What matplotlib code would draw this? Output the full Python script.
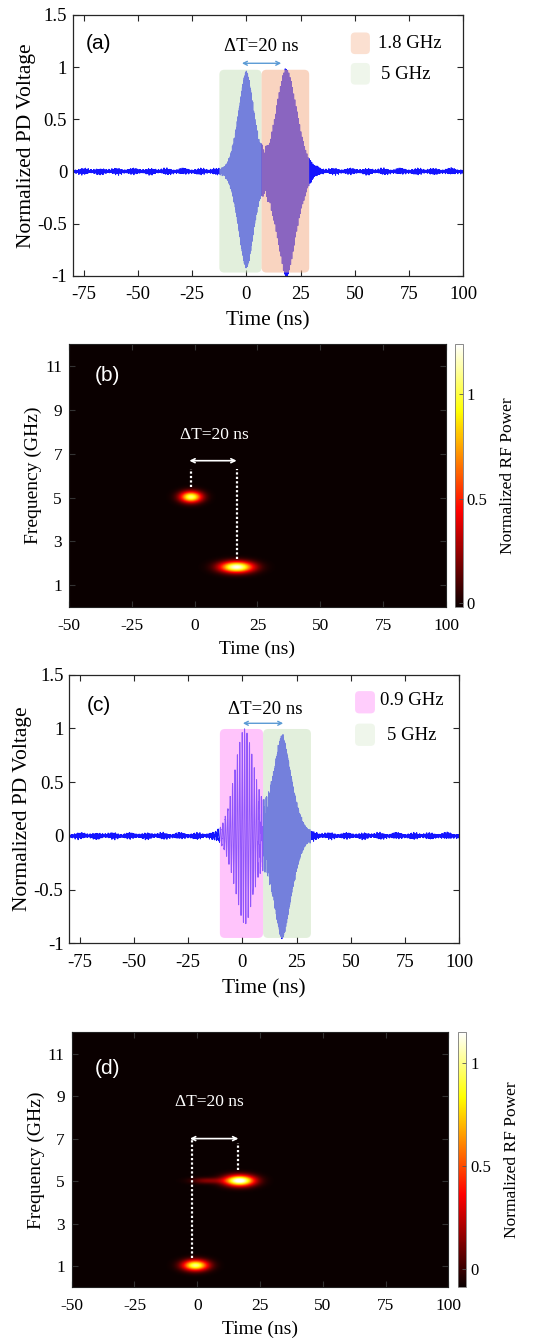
import numpy as np
import matplotlib
matplotlib.use("Agg")
import matplotlib.pyplot as plt
from matplotlib.patches import FancyBboxPatch

SERIF = ["Liberation Serif", "DejaVu Serif"]
SANS = ["Liberation Sans", "DejaVu Sans"]

# ---------------- axis ticks ----------------
time_ticks = [-75, -50, -25, 0, 25, 50, 75, 100]
time_ticklabels = ["-75", "-50", "-25", "0", "25", "50", "75", "100"]
volt_ticks = [-1, -0.5, 0, 0.5, 1, 1.5]
volt_ticklabels = ["-1", "-0.5", "0", "0.5", "1", "1.5"]
spec_time_ticks = [-50, -25, 0, 25, 50, 75, 100]
spec_time_ticklabels = ["-50", "-25", "0", "25", "50", "75", "100"]
freq_ticks = [1, 3, 5, 7, 9, 11]
cbar_ticks = [0, 0.5, 1]
cbar_ticklabels = ["0", "0.5", "1"]

# ---------------- time-domain pulses ----------------
# panel (a): 5 GHz pulse followed by 1.8 GHz pulse
pulse_a_center = [0.0, 18.5]       # ns
pulse_a_freq = [5.0, 1.8]          # GHz
pulse_a_peak_pos = [0.95, 1.0]
pulse_a_peak_neg = [0.92, 1.0]
pulse_a_width = [5.1, 6.8]         # ns
pulse_a_shape = [1.7, 1.7]

# panel (c): 0.9 GHz pulse followed by 5 GHz pulse
pulse_c_center = [1.0, 18.3]
pulse_c_freq = [0.9, 5.0]
pulse_c_peak_pos = [1.0, 0.93]
pulse_c_peak_neg = [0.80, 0.95]
pulse_c_width = [6.6, 6.2]
pulse_c_shape = [1.8, 1.6]

noise_level = 0.022

# shaded windows: start, end (ns), label, colour
win_a_start = [-12.4, 7.05]
win_a_end = [7.05, 29.0]
win_a_label = ["5 GHz", "1.8 GHz"]
win_a_color = ["#cae2bd", "#f5ae88"]

win_c_start = [-10.4, 9.55]
win_c_end = [9.55, 31.6]
win_c_label = ["0.9 GHz", "5 GHz"]
win_c_color = ["#ff91f9", "#cae2bd"]

# ---------------- spectrogram components ----------------
# panel (b)
spec_b_floor = -0.02
spec_b_t0 = [-1.5, 16.7]
spec_b_f0 = [5.0, 1.8]
spec_b_peak = [1.07, 1.24]
spec_b_st = [4.3, 6.5]
spec_b_sf = [0.25, 0.25]
# panel (d)
spec_d_floor = -0.09
spec_d_t0 = [-0.9, 16.7, 4.0]
spec_d_f0 = [1.0, 5.0, 5.0]
spec_d_peak = [1.0, 1.22, 0.14]
spec_d_st = [5.0, 5.8, 6.5]
spec_d_sf = [0.25, 0.25, 0.14]

BLUE = "#1414ff"
ARROW_BLUE = "#5b9bd5"
SPINE = "#262626"


def waveform(t, centers, freqs, ppos, pneg, widths, shapes):
    y = np.zeros_like(t)
    for c, f, ap, an, w, p in zip(centers, freqs, ppos, pneg, widths, shapes):
        env = np.exp(-np.abs((t - c) / w) ** p)
        car = np.sin(2 * np.pi * f * (t - c) + np.pi / 2)
        y += env * car * np.where(car > 0, ap, an)
    # detector noise floor
    mod = 1 + 0.35 * np.sin(2 * np.pi * 0.13 * t) + 0.25 * np.sin(2 * np.pi * 0.71 * t + 0.4)
    nz = (0.45 * np.sin(2 * np.pi * 3.71 * t) + 0.30 * np.sin(2 * np.pi * 7.33 * t + 1.1)
          + 0.25 * np.sin(2 * np.pi * 11.87 * t + 2.3) + 0.2 * np.sin(2 * np.pi * 2.13 * t + 0.7))
    y += noise_level * mod * nz
    return y


def spectrogram(t, f, floor, t0s, f0s, peaks, sts, sfs):
    T, F = np.meshgrid(t, f)
    z = np.full_like(T, floor)
    for t0, f0, a, st, sf in zip(t0s, f0s, peaks, sts, sfs):
        z += (a - floor) * np.exp(-((T - t0) / st) ** 2 - ((F - f0) / sf) ** 2)
    return z


def style_time_axes(ax):
    ax.set_xlim(-80, 100)
    ax.set_ylim(-1, 1.5)
    ax.set_xticks(time_ticks)
    ax.set_xticklabels(time_ticklabels, fontfamily=SERIF, fontsize=13.5)
    ax.set_yticks(volt_ticks)
    ax.set_yticklabels(volt_ticklabels, fontfamily=SERIF, fontsize=13.5)
    ax.tick_params(direction="in", length=4, width=0.8, top=True, right=True,
                   colors=SPINE, labelcolor="black")
    ax.tick_params(axis="x", pad=7.5)
    ax.tick_params(axis="y", pad=4)
    for s in ax.spines.values():
        s.set_color(SPINE)
        s.set_linewidth(0.9)
    ax.set_xlabel("Time (ns)", fontfamily=SERIF, fontsize=15.5, labelpad=6)
    ax.set_ylabel("Normalized PD Voltage", fontfamily=SERIF, fontsize=15.5, labelpad=1)


def add_windows(ax, starts, ends, colors, ybot, ytop, aspect):
    for x0, x1, c in zip(starts, ends, colors):
        box = FancyBboxPatch((x0, ybot), x1 - x0, ytop - ybot,
                             boxstyle="round,pad=0,rounding_size=2.3",
                             mutation_aspect=aspect, facecolor=c, edgecolor="none",
                             alpha=0.53, zorder=3)
        ax.add_patch(box)


def add_legend(ax, entries, colors, alphas, px, py, tx, ty, m_aspect):
    for lab, c, a, y0, xt, yt in zip(entries, colors, alphas, py, tx, ty):
        p = FancyBboxPatch((px[0], y0), px[1] - px[0], 0.083,
                           boxstyle="round,pad=0,rounding_size=0.011",
                           mutation_aspect=m_aspect, facecolor=c, edgecolor="none",
                           alpha=a, transform=ax.transAxes, zorder=4)
        ax.add_patch(p)
        ax.text(xt, yt, lab, transform=ax.transAxes, fontfamily=SERIF,
                fontsize=13.5, va="center", ha="left", zorder=5)


def style_spec_axes(ax):
    ax.set_xlim(-50, 100)
    ax.set_ylim(0, 12)
    ax.set_xticks(spec_time_ticks)
    ax.set_xticklabels(spec_time_ticklabels, fontfamily=SERIF, fontsize=12.5)
    ax.set_yticks(freq_ticks)
    ax.set_yticklabels([str(v) for v in freq_ticks], fontfamily=SERIF, fontsize=12.5)
    ax.tick_params(direction="in", length=4, width=0.8, top=True, right=True,
                   colors="#333333", labelcolor="black")
    ax.tick_params(axis="x", pad=7.5)
    ax.tick_params(axis="y", pad=5)
    for s in ax.spines.values():
        s.set_color("#222222")
        s.set_linewidth(0.8)
    ax.set_xlabel("Time (ns)", fontfamily=SERIF, fontsize=14, labelpad=5)
    ax.set_ylabel("Frequency (GHz)", fontfamily=SERIF, fontsize=14, labelpad=2)


def style_cbar(cb):
    cb.set_ticks(cbar_ticks)
    cb.ax.set_yticklabels(cbar_ticklabels, fontfamily=SERIF, fontsize=12)
    cb.ax.tick_params(direction="in", length=3, width=0.6, colors="#555555",
                      labelcolor="black", pad=3)
    cb.outline.set_edgecolor("#777777")
    cb.outline.set_linewidth(0.6)
    cb.set_label("Normalized RF Power", fontfamily=SERIF, fontsize=12.5, labelpad=9)


fig = plt.figure(figsize=(5.54, 13.39), dpi=100)

t = np.arange(-80, 100, 0.01)

# ---------------- (a) ----------------
ax_a = fig.add_axes([0.1312, 0.7941, 0.705, 0.1947])
ya = waveform(t, pulse_a_center, pulse_a_freq, pulse_a_peak_pos, pulse_a_peak_neg,
              pulse_a_width, pulse_a_shape)
ax_a.plot(t, ya, color=BLUE, lw=0.7, zorder=2)
add_windows(ax_a, win_a_start, win_a_end, win_a_color, -0.97, 0.975, 0.0208)
style_time_axes(ax_a)
ax_a.annotate("", xy=(-2.0, 1.037), xytext=(16.1, 1.037),
              arrowprops=dict(arrowstyle="<->", color=ARROW_BLUE, lw=1.0,
                              shrinkA=0, shrinkB=0, mutation_scale=7))
ax_a.text(6.7, 1.196, "ΔT=20 ns", fontfamily=SERIF, fontsize=13.5, ha="center", va="center")
ax_a.text(0.0668, 0.891, "(a)", transform=ax_a.transAxes, fontfamily=SANS,
          fontsize=15, ha="center", va="center")
add_legend(ax_a, [win_a_label[1], win_a_label[0]], [win_a_color[1], win_a_color[0]],
           [0.38, 0.3], (0.712, 0.761), [0.850, 0.733], [0.782, 0.789], [0.891, 0.773], 1.498)

# ---------------- (b) ----------------
ts = np.arange(-50, 100.01, 0.25)
fs = np.arange(0, 12.01, 0.05)
ax_b = fig.add_axes([0.1245, 0.5465, 0.6805, 0.1966])
zb = spectrogram(ts, fs, spec_b_floor, spec_b_t0, spec_b_f0, spec_b_peak,
                 spec_b_st, spec_b_sf)
im_b = ax_b.imshow(zb, extent=[ts[0], ts[-1], fs[0], fs[-1]], origin="lower",
                   aspect="auto", cmap="hot", vmin=-0.02, vmax=1.24,
                   interpolation="bilinear")
style_spec_axes(ax_b)
dot = dict(color="white", lw=1.6, linestyle=(0, (1, 1)))
ax_b.plot([-1.6, -1.6], [5.5, 6.3], **dot)
ax_b.plot([16.7, 16.7], [2.2, 6.3], **dot)
ax_b.annotate("", xy=(-2.1, 6.68), xytext=(16.7, 6.68),
              arrowprops=dict(arrowstyle="<->", color="white", lw=1.2,
                              shrinkA=0, shrinkB=0, mutation_scale=7))
ax_b.text(7.8, 7.86, "ΔT=20 ns", color="white", fontfamily=SERIF, fontsize=12.5,
          ha="center", va="center")
ax_b.text(0.1008, 0.882, "(b)", transform=ax_b.transAxes, color="white",
          fontfamily=SANS, fontsize=15, ha="center", va="center")
cax_b = fig.add_axes([0.8213, 0.5465, 0.0139, 0.1966])
style_cbar(fig.colorbar(im_b, cax=cax_b))

# ---------------- (c) ----------------
ax_c = fig.add_axes([0.1245, 0.2955, 0.7045, 0.2006])
yc = waveform(t, pulse_c_center, pulse_c_freq, pulse_c_peak_pos, pulse_c_peak_neg,
              pulse_c_width, pulse_c_shape)
ax_c.plot(t, yc, color=BLUE, lw=0.7, zorder=2)
add_windows(ax_c, win_c_start, win_c_end, win_c_color, -0.95, 0.995, 0.0202)
style_time_axes(ax_c)
ax_c.annotate("", xy=(0.2, 1.048), xytext=(18.8, 1.048),
              arrowprops=dict(arrowstyle="<->", color=ARROW_BLUE, lw=1.0,
                              shrinkA=0, shrinkB=0, mutation_scale=7))
ax_c.text(10.4, 1.18, "ΔT=20 ns", fontfamily=SERIF, fontsize=13.5, ha="center", va="center")
ax_c.text(0.0756, 0.887, "(c)", transform=ax_c.transAxes, fontfamily=SANS,
          fontsize=15, ha="center", va="center")
add_legend(ax_c, win_c_label, win_c_color, [0.45, 0.3], (0.733, 0.784),
           [0.856, 0.735], [0.797, 0.814], [0.903, 0.772], 1.453)

# ---------------- (d) ----------------
ax_d = fig.add_axes([0.1294, 0.0386, 0.6798, 0.1904])
zd = spectrogram(ts, fs, spec_d_floor, spec_d_t0, spec_d_f0, spec_d_peak,
                 spec_d_st, spec_d_sf)
im_d = ax_d.imshow(zd, extent=[ts[0], ts[-1], fs[0], fs[-1]], origin="lower",
                   aspect="auto", cmap="hot", vmin=-0.09, vmax=1.15,
                   interpolation="bilinear")
style_spec_axes(ax_d)
ax_d.plot([-2.0, -2.0], [1.36, 7.0], **dot)
ax_d.plot([16.1, 16.1], [5.5, 6.8], **dot)
ax_d.annotate("", xy=(-2.9, 7.0), xytext=(16.4, 7.0),
              arrowprops=dict(arrowstyle="<->", color="white", lw=1.2,
                              shrinkA=0, shrinkB=0, mutation_scale=7))
ax_d.text(4.8, 8.73, "ΔT=20 ns", color="white", fontfamily=SERIF, fontsize=12.5,
          ha="center", va="center")
ax_d.text(0.0945, 0.859, "(d)", transform=ax_d.transAxes, color="white",
          fontfamily=SANS, fontsize=15, ha="center", va="center")
cax_d = fig.add_axes([0.8273, 0.0386, 0.0139, 0.1904])
style_cbar(fig.colorbar(im_d, cax=cax_d))

fig.savefig("out.png", dpi=100)
